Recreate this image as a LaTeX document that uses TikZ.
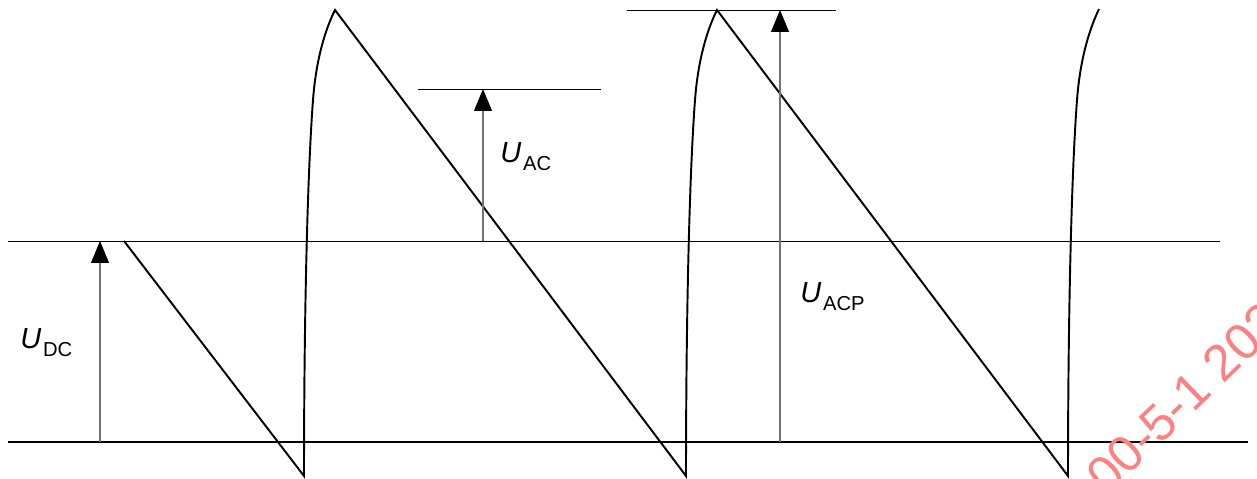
\documentclass[tikz,border=0pt]{standalone}
\usepackage{fontspec}
\setmainfont{Liberation Sans}
\usetikzlibrary{arrows.meta}

\definecolor{wmred}{RGB}{255,128,128}
\newcommand{\volt}[1]{{\fontsize{16.5}{18}\selectfont\itshape U}\kern1pt\raisebox{-4pt}{\fontsize{11.5}{12}\selectfont #1}}

\tikzset{
  wave/.style={line width=1.1pt},
  level/.style={line width=0.5pt},
  meas/.style={draw=black!55, line width=0.6pt, -{Triangle[length=0.44cm,width=0.36cm,color=black]}},
  lbl/.style={inner sep=0pt, anchor=base west},
}

\begin{document}
\begin{tikzpicture}[x=0.02cm, y=-0.02cm]
    \useasboundingbox (0,0) rectangle (1257,479);
    \clip (0,0) rectangle (1257,479);

    % Zero line and levels
    \draw[line width=1pt] (8,442) -- (1248,442);
    \draw[level] (8,241) -- (1220,241);
    \draw[level] (418,89) -- (601,89);
    \draw[level] (627,10) -- (836,10);

    % Sawtooth ripple
    \draw[wave] (124,241) -- (304,476)
        .. controls (304,330) and (307,180) .. (313,100)
        .. controls (316,60) and (325,30) .. (335,10) -- (686,476)
        .. controls (686,330) and (689,180) .. (695,100)
        .. controls (698,60) and (707,30) .. (717,10) -- (1068,476)
        .. controls (1068,330) and (1071,180) .. (1077,100)
        .. controls (1080,60) and (1089,30) .. (1099,9);

    % Measuring arrows
    \coordinate (dcA) at (100,442);
    \coordinate (dcB) at (100,241);
    \coordinate (acA) at (483,241);
    \coordinate (acB) at (483,89);
    \coordinate (acpA) at (780,442);
    \coordinate (acpB) at (780,10);
    \draw[meas] (dcA) -- (dcB);
    \draw[meas] (acA) -- (acB);
    \draw[meas] (acpA) -- (acpB);

    % Labels
    \node[lbl] (udc) at (20,349) {\volt{DC}};
    \node[lbl] (uac) at (500,163) {\volt{AC}};
    \node[lbl] (uacp) at (800,303) {\volt{ACP}};

    % Watermark
    \node[rotate=44, text=wmred, font=\fontsize{29}{29}\selectfont] (wm) at (1184,398) {00-5-1 202};
\end{tikzpicture}
\end{document}
